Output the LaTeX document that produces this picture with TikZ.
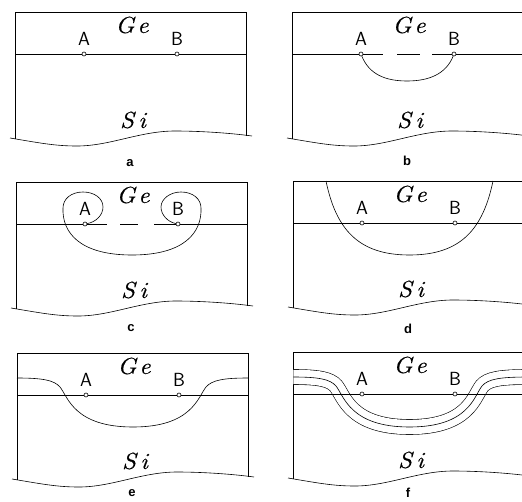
\documentclass[tikz,border=0pt]{standalone}
\usepackage{amsmath}
\usepackage{fontspec}
\usepackage{graphicx}
\usetikzlibrary{positioning}
\newfontfamily\etqfont{Liberation Sans}
\newfontfamily\matfont{Latin Modern Roman}[FakeBold=0.5]

\tikzset{
  punt/.style={circle, draw, fill=white, inner sep=0pt, minimum size=4pt},
  lletra/.style={font=\sffamily\fontsize{19}{21}\selectfont, inner sep=0pt},
  mat/.style={font=\matfont\itshape\fontsize{23}{27}\selectfont, inner sep=0pt},
  etq/.style={font=\etqfont\bfseries\fontsize{13}{15}\selectfont, inner sep=0pt},
  capes/.style={double=white, double distance=14.4pt},
}

% Marc comu: capa de Ge, substrat de Si, punts A i B
\newcommand{\marc}[2]{%
  \draw (15,12) -- (246,12);
  \draw (15,12) -- (15,139);
  \draw (246,12) -- (246,136);
  \draw (10,138) .. controls (40,143) and (55,146) .. (77,146)
        .. controls (110,146) and (140,131) .. (175,131)
        .. controls (200,131) and (230,133) .. (252,136);
  \node[mat] (ge#1) at (132,25) {\scalebox{1.1}[1]{G\kern2.5pt e}};
  \node[mat] (si#1) at (133,120) {\scalebox{1.1}[1]{S\kern4pt i}};
  \node[punt] (pA#1) at (84,54) {};
  \node[punt] (pB#1) at (177,54) {};
  \node[lletra, above=6pt of pA#1] (A#1) {A};
  \node[lletra, above=6pt of pB#1] (B#1) {B};
  \node[etq] (et#1) at (130,#2) {#1};
}
\newcommand{\perfilf}{(15.3,37) .. controls (40,37) and (52,39) .. (58,46)
  .. controls (66,56) and (72,87) .. (131.5,87)
  .. controls (191,87) and (196,56) .. (204,46)
  .. controls (210,39) and (222,37) .. (250,37)}

\begin{document}
\begin{tikzpicture}[x=1pt, y=-1pt, line width=0.6pt]
  \useasboundingbox (0,0) rectangle (522,501);
  \clip (0,0) rectangle (522,501);

  % a
  \begin{scope}
    \marc{a}{163}
    \draw (15,54) -- (pAa) -- (pBa) -- (246,54);
  \end{scope}

  % b
  \begin{scope}[shift={(277,0)}]
    \marc{b}{161}
    \draw (15,54) -- (pAb) -- (106,54) (120,54) -- (143,54) (155,54) -- (pBb) -- (246,54);
    \draw (pAb) .. controls (92,74) and (108,81) .. (130,81)
                .. controls (152,81) and (169,74) .. (pBb);
  \end{scope}

  % c
  \begin{scope}[shift={(1,170)}]
    \marc{c}{158}
    \draw (15,54) -- (pAc) -- (106,54) (119,54) -- (137,54) (153,54) -- (pBc) -- (246,54);
    \draw (pAc) .. controls (95,52) and (102,45) .. (102,37)
          .. controls (102,28) and (93,22) .. (82,22)
          .. controls (70,22) and (62,29) .. (62,38)
          .. controls (61,62) and (78,85) .. (131,85)
          .. controls (184,85) and (201,62) .. (200,38)
          .. controls (200,29) and (192,22) .. (180,22)
          .. controls (169,22) and (160,29) .. (160,37)
          .. controls (160,45) and (167,52) .. (pBc);
  \end{scope}

  % d
  \begin{scope}[shift={(278,169)}]
    \marc{d}{160}
    \draw (15,54) -- (pAd) -- (pBd) -- (246,54);
    \draw (48,12) .. controls (58,60) and (80,86) .. (131.5,86)
          .. controls (183,86) and (205,60) .. (215,12);
  \end{scope}

  % e
  \begin{scope}[shift={(2,341)}]
    \marc{e}{152}
    \draw (15,37) .. controls (40,37) and (52,39) .. (58,46)
          .. controls (66,56) and (72,86) .. (131,86)
          .. controls (190,86) and (196,56) .. (204,46)
          .. controls (210,39) and (222,37) .. (246,37);
    \draw (15,54) -- (pAe) -- (pBe) -- (246,54);
  \end{scope}

  % f
  \begin{scope}[shift={(278,340)}]
    \marc{f}{153}
    \draw[capes] \perfilf;
    \draw \perfilf;
    \draw (15,54) -- (pAf) -- (pBf) -- (246,54);
  \end{scope}
\end{tikzpicture}
\end{document}
